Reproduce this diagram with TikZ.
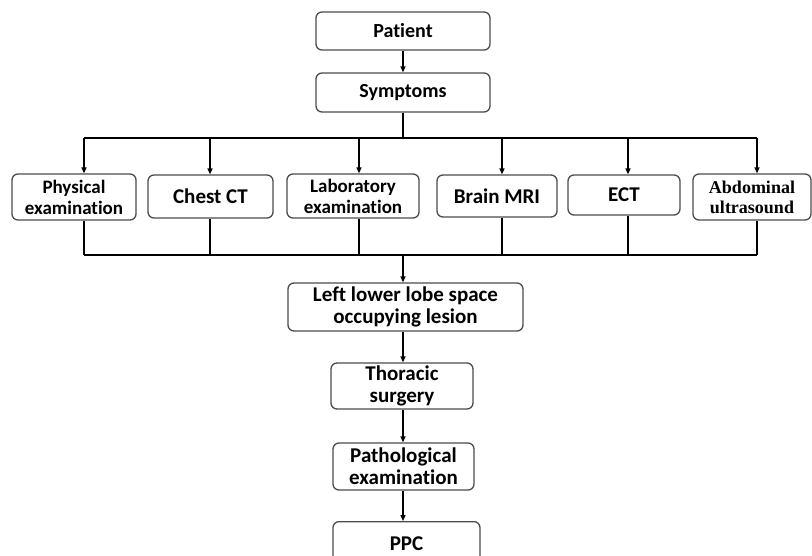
\documentclass[tikz,border=0pt]{standalone}
\usepackage{fontspec}
\setmainfont[RawFeature={-liga}]{Carlito}
\newfontfamily\tnr{Liberation Serif}
\usetikzlibrary{arrows.meta}
\begin{document}
\begin{tikzpicture}[x=1pt,y=-1pt,
  box/.style={draw=black!70, line width=1.3pt, rounded corners=6pt, align=center,
    font=\fontsize{20}{22}\selectfont\bfseries, inner sep=1pt, fill=white},
  sbox/.style={box, font=\fontsize{19}{21}\selectfont\bfseries},
  bigbox/.style={box, font=\fontsize{21}{22}\selectfont\bfseries},
  conn/.style={line width=1.3pt, black},
  arr/.style={conn, -{Triangle[length=6pt,width=5pt]}}]
\useasboundingbox (0,0) rectangle (812,555);
\fill[white] (0,0) rectangle (812,555);
% top
\node[box, minimum width=174pt, minimum height=38pt] (patient) at (403,31) {Patient};
\node[box, minimum width=174pt, minimum height=39pt] (symptoms) at (403,92.5) {Symptoms};
% row of examinations
\node[sbox, minimum width=124pt, minimum height=46pt] (phys) at (74,197) {Physical\\examination};
\node[bigbox, minimum width=125pt, minimum height=43pt] (chest) at (210.5,196.5) {Chest CT};
\node[sbox, minimum width=132pt, minimum height=44pt] (lab) at (353,196) {Laboratory\\examination};
\node[bigbox, minimum width=120pt, minimum height=42pt] (brain) at (497,196) {Brain MRI};
\node[bigbox, minimum width=112pt, minimum height=40pt] (ect) at (624,195) {ECT};
\node[box, minimum width=118pt, minimum height=46pt, font=\fontsize{18}{20}\selectfont\tnr\bfseries] (abd) at (752,197) {Abdominal\\ultrasound};
% lower chain
\node[bigbox, minimum width=235pt, minimum height=48pt] (left) at (405.5,307) {Left lower lobe space\\occupying lesion};
\node[bigbox, minimum width=142pt, minimum height=46pt] (thor) at (402,386) {Thoracic\\surgery};
\node[bigbox, minimum width=141pt, minimum height=47pt] (path) at (403.5,466.5) {Pathological\\examination};
\node[bigbox, minimum width=147pt, minimum height=44pt, anchor=north] (ppc) at (406.5,521) {PPC};
% bus coordinates
\coordinate (tb) at (403,138);
\coordinate (t1) at (84,138);
\coordinate (t2) at (210,138);
\coordinate (t3) at (359,138);
\coordinate (t4) at (502,138);
\coordinate (t5) at (628,138);
\coordinate (t6) at (757,138);
\coordinate (b1) at (84,255);
\coordinate (b2) at (210,255);
\coordinate (b3) at (359,255);
\coordinate (b4) at (502,255);
\coordinate (b5) at (628,255);
\coordinate (b6) at (757,255);
\coordinate (bb) at (403,255);
% connectors
\draw[arr] (patient) -- (symptoms);
\draw[conn] (symptoms) -- (tb);
\draw[conn] (t1) -- (t6);
\draw[arr] (t1) -- (t1 |- phys.north);
\draw[arr] (t2) -- (t2 |- chest.north);
\draw[arr] (t3) -- (t3 |- lab.north);
\draw[arr] (t4) -- (t4 |- brain.north);
\draw[arr] (t5) -- (t5 |- ect.north);
\draw[arr] (t6) -- (t6 |- abd.north);
\draw[conn] (b1 |- phys.south) -- (b1);
\draw[conn] (b2 |- chest.south) -- (b2);
\draw[conn] (b3 |- lab.south) -- (b3);
\draw[conn] (b4 |- brain.south) -- (b4);
\draw[conn] (b5 |- ect.south) -- (b5);
\draw[conn] (b6 |- abd.south) -- (b6);
\draw[conn] (b1) -- (b6);
\draw[arr] (bb) -- (bb |- left.north);
\draw[arr] (bb |- left.south) -- (bb |- thor.north);
\draw[arr] (bb |- thor.south) -- (bb |- path.north);
\draw[arr] (bb |- path.south) -- (bb |- ppc.north);
\end{tikzpicture}
\end{document}
